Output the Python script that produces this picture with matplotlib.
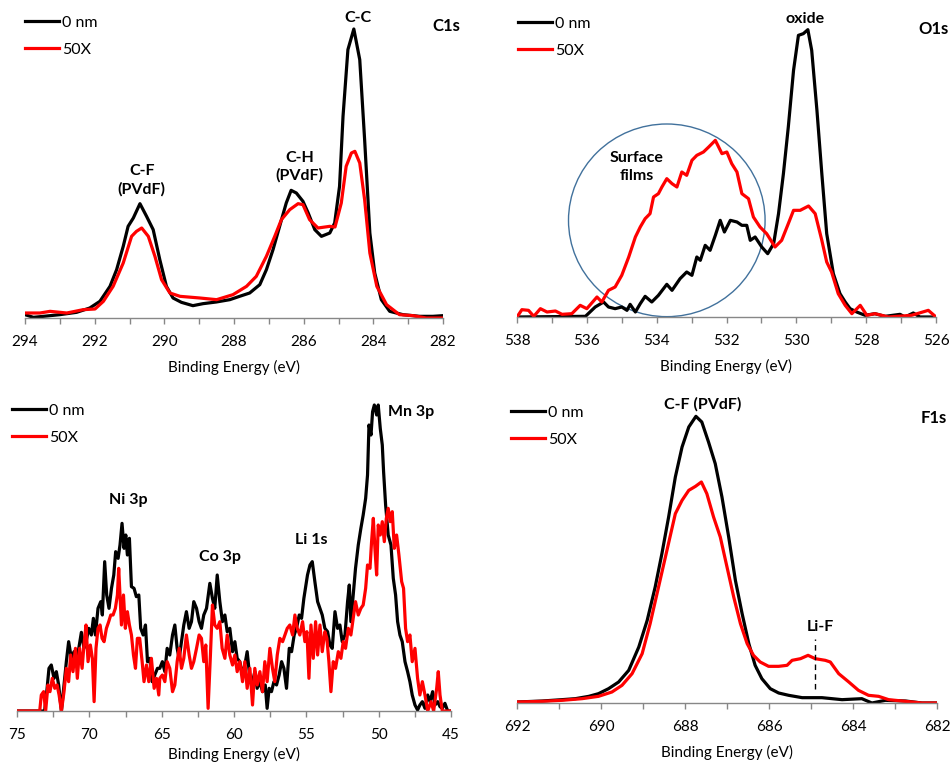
import numpy as np
import matplotlib
matplotlib.use("Agg")
from matplotlib import pyplot as plt
from matplotlib.patches import Ellipse
from matplotlib.ticker import MultipleLocator

plt.rcParams['font.family'] = ['Lato', 'DejaVu Sans']

# ---------------- C1s ----------------
c1s_e_0nm = [294.0, 293.76, 293.47, 293.0, 292.52, 292.14, 291.85, 291.56, 291.37, 291.18, 291.04, 290.89,
             290.7, 290.51, 290.32, 290.13, 289.94, 289.75, 289.51, 289.18, 288.89, 288.51, 288.12, 287.84,
             287.55, 287.26, 287.07, 286.88, 286.69, 286.5, 286.36, 286.21, 286.02, 285.87, 285.68, 285.49,
             285.25, 285.11, 284.97, 284.87, 284.73, 284.56, 284.39, 284.25, 284.1, 283.96, 283.77, 283.53,
             283.15, 282.67, 282.29, 282.0]
c1s_i_0nm = [10, 2, 5, 10, 17, 30, 50, 95, 145, 215, 275, 300,
             343, 305, 265, 175, 95, 60, 47, 37, 43, 48, 55, 65,
             75, 100, 145, 205, 275, 345, 383, 375, 350, 315, 265, 245,
             255, 285, 395, 605, 805, 867, 775, 535, 255, 135, 55, 20,
             10, 5, 5, 7]
c1s_e_50x = [294.0, 293.57, 293.28, 292.8, 292.33, 291.99, 291.75, 291.47, 291.18, 290.94, 290.8, 290.65,
             290.46, 290.27, 290.08, 289.84, 289.55, 288.98, 288.5, 288.03, 287.64, 287.36, 287.07, 286.83,
             286.64, 286.4, 286.16, 286.02, 285.83, 285.59, 285.25, 285.1, 284.92, 284.78, 284.63, 284.53,
             284.39, 284.25, 284.1, 283.9, 283.62, 283.25, 282.86, 282.48, 282.0]
c1s_i_50x = [15, 15, 20, 15, 25, 27, 50, 95, 165, 245, 260, 270,
             245, 185, 115, 75, 65, 60, 55, 70, 95, 125, 185, 245,
             295, 325, 343, 340, 295, 270, 275, 273, 345, 455, 495, 500,
             465, 355, 195, 95, 40, 10, 7, 0, 0]

# ---------------- O1s ----------------
o1s_e_0nm = [538.0, 536.04, 535.76, 535.52, 535.38, 535.19, 535.0, 534.85, 534.76, 534.61, 534.47, 534.33,
             534.14, 533.95, 533.71, 533.56, 533.33, 533.14, 532.99, 532.85, 532.75, 532.61, 532.47, 532.32,
             532.18, 532.06, 531.89, 531.7, 531.56, 531.42, 531.32, 531.18, 530.99, 530.82, 530.65, 530.51,
             530.37, 530.23, 530.08, 529.94, 529.8, 529.67, 529.56, 529.41, 529.27, 529.13, 528.94, 528.75,
             528.6, 528.46, 528.27, 528.03, 527.75, 527.46, 527.03, 526.89, 526.65, 526.46, 526.0]
o1s_i_0nm = [0, 2, 30, 45, 30, 25, 30, 20, 38, 15, 40, 62,
             45, 65, 98, 80, 115, 135, 125, 180, 170, 215, 200, 245,
             290, 255, 290, 285, 275, 275, 230, 240, 210, 190, 220, 310,
             430, 570, 740, 845, 850, 862, 800, 620, 430, 250, 130, 70,
             45, 25, 15, 5, 10, 2, 8, 0, 12, 0, 0]
o1s_e_50x = [538.0, 537.86, 537.67, 537.52, 537.33, 537.14, 536.9, 536.71, 536.43, 536.19, 536.0, 535.71,
             535.57, 535.38, 535.19, 535.0, 534.8, 534.61, 534.47, 534.33, 534.19, 534.09, 533.95, 533.85,
             533.71, 533.56, 533.42, 533.28, 533.14, 532.99, 532.85, 532.66, 532.51, 532.32, 532.13, 531.99,
             531.85, 531.7, 531.56, 531.37, 531.23, 531.04, 530.85, 530.61, 530.42, 530.23, 530.08, 529.89,
             529.65, 529.46, 529.27, 529.13, 528.99, 528.8, 528.6, 528.41, 528.17, 527.98, 527.75, 527.36,
             526.7, 526.22, 526.0]
o1s_i_50x = [0, 22, 20, 2, 25, 15, 18, 8, 10, 35, 25, 60,
             45, 80, 90, 125, 180, 240, 270, 295, 310, 360, 370, 390,
             415, 400, 390, 435, 425, 470, 485, 495, 510, 530, 490, 495,
             460, 435, 370, 355, 300, 270, 250, 210, 230, 280, 320, 320,
             333, 310, 230, 165, 135, 70, 35, 10, 35, 5, 10, 0,
             5, 20, 0]

# ---------------- Ni/Co/Li/Mn 3p region ----------------
vb_e_0nm = [75.0, 73.09, 72.92, 72.79, 72.63, 72.44, 72.28, 72.12, 71.93, 71.59, 71.43, 71.24, 71.06,
            70.9, 70.73, 70.55, 70.37, 70.2, 70.04, 69.86, 69.72, 69.58, 69.4, 69.21, 69.1, 68.94, 68.8,
            68.64, 68.47, 68.31, 68.18, 68.01, 67.88, 67.74, 67.6, 67.48, 67.37, 67.23, 67.09, 66.91, 66.75,
            66.58, 66.45, 66.28, 66.12, 65.98, 65.82, 65.66, 65.48, 65.29,
            65.13, 64.95, 64.78, 64.62, 64.44, 64.25, 64.09, 63.93, 63.79, 63.63, 63.47, 63.29, 63.1, 62.94,
            62.78, 62.59, 62.41, 62.25, 62.09, 61.9, 61.67, 61.49, 61.33, 61.16, 60.98, 60.8, 60.63, 60.47,
            60.29, 60.1, 59.94, 59.78, 59.6, 59.41, 59.25, 59.09, 58.9, 58.72, 58.56, 58.4, 58.21, 58.03,
            57.84, 57.71, 57.57, 57.41, 57.24, 57.06, 56.88, 56.71, 56.55, 56.37, 56.18, 56.02, 55.84, 55.68,
            55.49, 55.33, 55.17,
            54.92, 54.75, 54.59, 54.41, 54.22, 54.06, 53.9, 53.72, 53.53, 53.37, 53.21, 53.02, 52.84, 52.68,
            52.52, 52.33, 52.15, 52.03, 51.92, 51.76, 51.6, 51.41, 51.23, 51.07, 50.9, 50.77, 50.67, 50.53,
            50.42, 50.3, 50.14, 50.03, 49.89, 49.75, 49.66, 49.52, 49.34, 49.15, 48.99, 48.83, 48.69, 48.53,
            48.37, 48.18, 48.0, 47.84, 47.68, 47.49, 47.31, 47.15, 46.98, 46.8, 46.61, 46.45, 46.27, 46.11,
            45.92, 45.76, 45.6, 45.42, 45.23, 45.0]
vb_i_0nm = [0, 0, 68, 128, 138, 98, 118, 78, 0, 148, 208, 158, 178,
            148, 188, 236, 188, 213, 248, 228, 278, 228, 308, 328, 288, 448, 348,
            308, 368, 408, 478, 458, 498, 563, 488, 528, 468, 518, 373, 368, 343,
            348, 248, 228, 258, 148, 158, 88, 108, 128,
            128, 148, 118, 188, 168, 228, 258, 188, 158, 208, 258, 298, 248, 268,
            328, 308, 268, 248, 288, 308, 383, 338, 308, 408, 328, 268, 288, 238,
            248, 178, 208, 158, 148, 108, 138, 178, 98, 88, 118, 68, 88, 58,
            78, 8, 68, 58, 88, 78, 108, 148, 128, 68, 188, 178, 228, 248,
            288, 278, 338,
            408, 438, 448, 388, 328, 308, 288, 248, 238, 198, 188, 298, 248, 258,
            208, 228, 328, 378, 268, 348, 428, 498, 548, 588, 638, 708, 858, 828,
            898, 918, 888, 918, 848, 798, 718, 618, 528, 498, 398, 348, 268, 228,
            208, 148, 118, 88, 48, 18, 3, 18, 28, 8, 48, 28, 58, 18,
            28, 13, 8, 23, 0, 0]
vb_e_50x = [75.0, 73.43, 73.32, 73.16, 73.02, 72.86, 72.72, 72.56, 72.39, 72.23, 72.09, 71.93, 71.75,
            71.59, 71.43, 71.29, 71.13, 70.96, 70.83, 70.67, 70.5, 70.37, 70.23, 70.09, 69.93, 69.79, 69.67,
            69.54, 69.4, 69.26, 69.12, 68.98, 68.82, 68.66, 68.52, 68.36, 68.2, 68.06, 67.97, 67.88, 67.78,
            67.64, 67.51, 67.37, 67.23, 67.09, 66.95, 66.81, 66.68, 66.52, 66.35, 66.22, 66.05, 65.89, 65.71,
            65.52, 65.36, 65.2,
            65.13, 64.95, 64.78, 64.62, 64.44, 64.25, 64.09, 63.93, 63.79, 63.63, 63.47, 63.29, 63.1, 62.94,
            62.78, 62.59, 62.41, 62.25, 62.09, 61.95, 61.79, 61.63, 61.49, 61.33, 61.16, 60.98, 60.82, 60.63,
            60.47, 60.29, 60.1, 59.94, 59.78, 59.6, 59.41, 59.25, 59.09, 58.9, 58.72, 58.56, 58.4, 58.21,
            58.03, 57.87, 57.71, 57.52, 57.34, 57.18, 57.01, 56.83, 56.64, 56.48, 56.32, 56.14, 55.95, 55.79,
            55.63, 55.45, 55.26,
            55.1, 54.96, 54.82, 54.68, 54.52, 54.36, 54.22, 54.06, 53.9, 53.72, 53.58, 53.44, 53.3, 53.14,
            52.98, 52.79, 52.61, 52.45, 52.29, 52.1, 51.92, 51.76, 51.6, 51.41, 51.23, 51.07, 50.9, 50.77,
            50.6, 50.49, 50.37, 50.26, 50.14, 50.03, 49.89, 49.75, 49.61, 49.47, 49.34, 49.2, 49.06, 48.92,
            48.76, 48.6, 48.41, 48.28, 48.14, 48.0, 47.84, 47.68, 47.49, 47.31, 47.15, 46.98, 46.8, 46.61,
            46.38, 46.2, 45.99, 45.88, 45.76, 45.6, 45.0]
vb_i_50x = [0, 0, 48, 58, 0, 78, 58, 98, 68, 78, 48, 0, 58,
            128, 88, 168, 118, 188, 98, 188, 128, 198, 258, 148, 198, 158, 28,
            188, 248, 258, 218, 208, 248, 268, 288, 288, 308, 348, 428, 348, 258,
            348, 248, 298, 258, 228, 168, 128, 218, 218, 148, 88, 138, 88, 158,
            68, 98, 48,
            98, 108, 88, 148, 128, 58, 78, 148, 188, 128, 158, 228, 168, 128,
            148, 188, 228, 218, 148, 198, 8, 168, 318, 258, 248, 268, 188, 158,
            228, 168, 138, 168, 118, 148, 88, 148, 68, 128, 18, 128, 78, 118,
            58, 148, 88, 188, 128, 88, 168, 218, 208, 228, 248, 258, 228, 288,
            248, 228, 268,
            208, 238, 98, 258, 158, 268, 168, 258, 178, 238, 218, 148, 58, 148,
            128, 178, 158, 208, 188, 248, 228, 278, 328, 288, 308, 318, 368, 438,
            428, 508, 578, 488, 408, 558, 528, 568, 508, 578, 608, 568, 598, 488,
            528, 468, 388, 368, 248, 208, 228, 148, 188, 98, 48, 88, 48, 0,
            28, 0, 68, 118, 48, 0, 0]

# ---------------- F1s ----------------
f1s_e_0nm = [692.0, 691.4, 690.93, 690.61, 690.29, 690.06, 689.82, 689.58, 689.34, 689.1, 688.9, 688.71,
             688.55, 688.39, 688.23, 688.07, 687.91, 687.74, 687.6, 687.44, 687.28, 687.12, 686.96, 686.8,
             686.64, 686.48, 686.33, 686.17, 685.97, 685.77, 685.53, 685.21, 684.74, 684.26, 683.79, 683.55,
             683.23, 682.75, 682.36, 682.0]
f1s_i_0nm = [3, 6, 10, 13, 20, 28, 43, 63, 98, 168, 248, 348,
             448, 558, 678, 768, 828, 860, 843, 783, 718, 618, 498, 368,
             268, 178, 113, 73, 43, 30, 23, 16, 16, 10, 13, 0,
             8, 6, 0, 0]
f1s_e_50x = [692.0, 691.4, 690.93, 690.45, 690.06, 689.74, 689.5, 689.26, 689.02, 688.83, 688.63, 688.43,
             688.23, 688.07, 687.91, 687.75, 687.61, 687.48, 687.32, 687.16, 687.0, 686.84, 686.68, 686.52,
             686.37, 686.21, 686.01, 685.77, 685.57, 685.45, 685.25, 685.07, 684.9, 684.66, 684.54, 684.34,
             684.1, 683.87, 683.63, 683.39, 683.15, 682.75, 682.36, 682.0]
f1s_i_50x = [3, 5, 8, 13, 20, 33, 53, 88, 148, 238, 348, 458,
             568, 608, 638, 650, 663, 628, 558, 498, 408, 318, 238, 178,
             143, 123, 110, 110, 113, 128, 133, 143, 133, 128, 123, 88,
             63, 38, 23, 20, 10, 5, 0, 0]

W, H = 951, 765
fig = plt.figure(figsize=(W / 100, H / 100), dpi=100)
legends = []


def make_ax(x0, x1, ytop, ybot, labelpad=8):
    ax = fig.add_axes([x0 / W, (H - ybot) / H, (x1 - x0) / W, (ybot - ytop) / H])
    ax.set_ylim(0, 3 * (ybot - ytop))
    for s in ['left', 'right', 'top']:
        ax.spines[s].set_visible(False)
    ax.spines['bottom'].set_color('#878787')
    ax.spines['bottom'].set_linewidth(1.0)
    ax.set_yticks([])
    ax.tick_params(axis='x', which='both', direction='out', length=4, width=1,
                   color='#878787', labelsize=11, pad=8)
    ax.set_xlabel('Binding Energy (eV)', fontsize=11, labelpad=labelpad)
    return ax


def draw(ax, e0, i0, e1, i1, lx, ly):
    # lx, ly: where the legend's first line should start, figure pixels from top-left
    ax.plot(e0, i0, color='black', lw=2.3, label='0 nm', solid_joinstyle='round')
    ax.plot(e1, i1, color='#ff0000', lw=2.3, label='50X', solid_joinstyle='round')
    leg = ax.legend(loc='upper left', bbox_to_anchor=(lx / W, 1 - ly / H), bbox_transform=fig.transFigure,
                    frameon=False, fontsize=11.5, handlelength=2.15, handletextpad=0.15,
                    labelspacing=0.8, borderaxespad=0, borderpad=0)
    legends.append((leg, lx, ly))


lab = dict(fontsize=11.5, fontweight='bold', ha='center', va='center', clip_on=False)
plab = dict(fontsize=12, fontweight='bold', ha='left', va='center', clip_on=False)

# C1s
ax1 = make_ax(25, 443, 8, 318)
draw(ax1, c1s_e_0nm, c1s_i_0nm, c1s_e_50x, c1s_i_50x, 25, 21)
ax1.set_xlim(294, 282)
ax1.xaxis.set_major_locator(MultipleLocator(2))
ax1.xaxis.set_minor_locator(MultipleLocator(1))
ax1.text(284.44, 900, 'C-C', **lab)
ax1.text(282.31, 877, 'C1s', **plab)
ax1.text(290.65, 413, 'C-F\n(PVdF)', linespacing=1.3, **lab)
ax1.text(286.11, 454, 'C-H\n(PVdF)', linespacing=1.3, **lab)

# O1s
ax2 = make_ax(517, 936, 8, 317)
draw(ax2, o1s_e_0nm, o1s_i_0nm, o1s_e_50x, o1s_i_50x, 518, 22)
ax2.set_xlim(538, 526)
ax2.xaxis.set_major_locator(MultipleLocator(2))
ax2.xaxis.set_minor_locator(MultipleLocator(1))
ax2.add_patch(Ellipse((533.71, 290), 5.63, 578, fill=False, edgecolor='#41719c', lw=1.0))
ax2.text(529.75, 895, 'oxide', **lab)
ax2.text(526.5, 865, 'O1s', **plab)
ax2.text(534.57, 450, 'Surface\nfilms', linespacing=1.3, **lab)

# Ni 3p / Co 3p / Li 1s / Mn 3p
ax3 = make_ax(17, 451, 403, 711, labelpad=4)
draw(ax3, vb_e_0nm, vb_i_0nm, vb_e_50x, vb_i_50x, 12, 409)
ax3.set_xlim(75, 45)
ax3.xaxis.set_major_locator(MultipleLocator(5))
ax3.xaxis.set_minor_locator(MultipleLocator(2.5))
ax3.text(67.32, 633, 'Ni 3p', **lab)
ax3.text(60.98, 463, 'Co 3p', **lab)
ax3.text(54.64, 513, 'Li 1s', **lab)
ax3.text(47.79, 896, 'Mn 3p', **lab)

# F1s
ax4 = make_ax(517, 937, 390, 703)
draw(ax4, f1s_e_0nm, f1s_i_0nm, f1s_e_50x, f1s_i_50x, 511, 411)
ax4.set_xlim(692, 682)
ax4.xaxis.set_major_locator(MultipleLocator(2))
ax4.xaxis.set_minor_locator(MultipleLocator(1))
ax4.plot([684.9, 684.9], [43, 193], color='black', lw=1, ls=(0, (4, 3)))
ax4.text(687.57, 896, 'C-F (PVdF)', **lab)
ax4.text(682.38, 855, 'F1s', **plab)
ax4.text(684.78, 228, 'Li-F', **lab)

# nudge each legend so its first handle line starts where the original one does
fig.canvas.draw()
for leg, lx, ly in legends:
    ln = leg.get_lines()[0]
    pts = ln.get_transform().transform(ln.get_xydata())
    dx = lx - pts[:, 0].min()
    dy = (H - ly) - pts[:, 1].mean()
    ax0, ay0 = leg.get_bbox_to_anchor().x0, leg.get_bbox_to_anchor().y0
    leg.set_bbox_to_anchor(((ax0 + dx) / W, (ay0 + dy) / H), transform=fig.transFigure)

fig.savefig('out.png', dpi=100)
